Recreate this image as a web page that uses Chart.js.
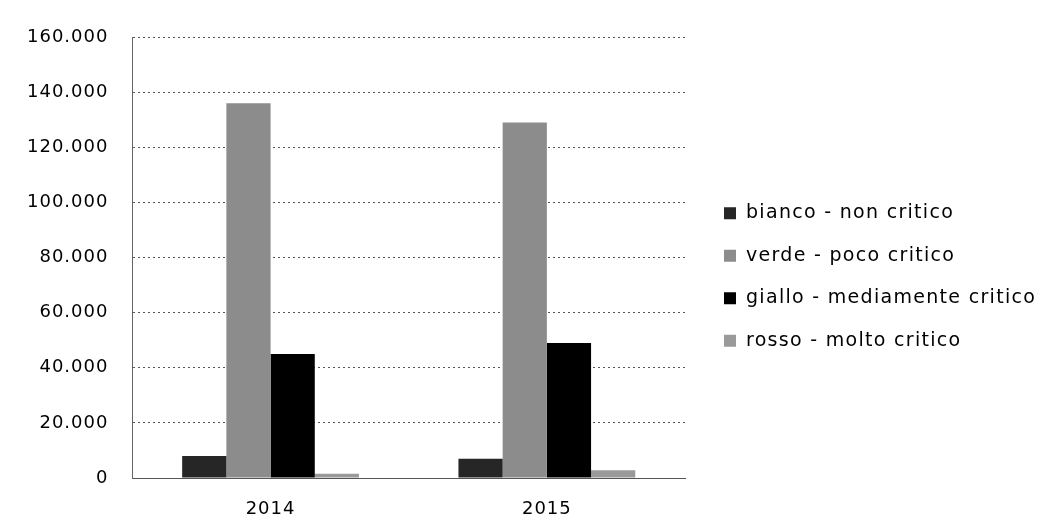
<!DOCTYPE html>
<html>
<head>
<meta charset="utf-8">
<script src="https://cdn.jsdelivr.net/npm/chart.js@4/dist/chart.umd.min.js"></script>
<style>
  html, body { margin: 0; padding: 0; background: #fff; }
  #wrap { width: 1046px; height: 530px; position: relative; }
</style>
</head>
<body>
<div id="wrap"><canvas id="c" width="1046" height="530"></canvas></div>
<script>
// Anni (categorie) e valori per livello di criticità
const anni = ['2014', '2015'];
const bianco = [8000, 7000];
const verde = [136000, 129000];
const giallo = [45000, 49000];
const rosso = [1500, 2800];
const serieNomi = ['bianco - non critico', 'verde - poco critico', 'giallo - mediamente critico', 'rosso - molto critico'];
const yTicks = [0, 20000, 40000, 60000, 80000, 100000, 120000, 140000, 160000];

const fontFamily = '"DejaVu Sans", "Liberation Sans", sans-serif';

// separatore delle migliaia all'italiana: 160.000
function formatta(v) {
  return String(v).replace(/\B(?=(\d{3})+(?!\d))/g, '.');
}

// spaziatura tra le lettere leggermente più ampia per tutto il testo
const spaziatura = {
  id: 'spaziatura',
  beforeUpdate(chart) { chart.ctx.letterSpacing = '1px'; },
  beforeLayout(chart) { chart.ctx.letterSpacing = '1px'; },
  beforeDraw(chart) { chart.ctx.letterSpacing = '1px'; },
  afterResize(chart) { chart.ctx.letterSpacing = '1px'; }
};

// legenda a destra, una voce per serie, disegnata dai dataset
const legenda = {
  id: 'legenda',
  afterDraw(chart) {
    const ctx = chart.ctx;
    ctx.save();
    ctx.letterSpacing = '1.3px';
    ctx.font = '19px ' + fontFamily;
    ctx.textBaseline = 'middle';
    ctx.textAlign = 'left';
    const x0 = chart.chartArea.right + 39;
    const yCentro = 277;
    const passo = 42.5;
    const n = chart.data.datasets.length;
    chart.data.datasets.forEach((ds, i) => {
      const y = yCentro + (i - (n - 1) / 2) * passo;
      ctx.fillStyle = ds.backgroundColor;
      ctx.fillRect(x0, y - 6, 12, 12);
      ctx.fillStyle = '#000';
      ctx.fillText(ds.label, x0 + 22, y);
    });
    ctx.restore();
  }
};

const colori = ['#262626', '#8c8c8c', '#000000', '#9a9a9a'];
const valori = [bianco, verde, giallo, rosso];

new Chart(document.getElementById('c'), {
  type: 'bar',
  data: {
    labels: anni,
    datasets: serieNomi.map((nome, i) => ({
      label: nome,
      data: valori[i],
      backgroundColor: colori[i],
      borderWidth: 0,
      barPercentage: 1.0,
      categoryPercentage: 0.64
    }))
  },
  options: {
    responsive: false,
    animation: false,
    layout: { padding: { top: 37, right: 361, bottom: 0, left: 3 } },
    plugins: {
      tooltip: { enabled: false },
      legend: { display: false }
    },
    scales: {
      x: {
        grid: { display: false, drawTicks: false },
        border: { display: true, color: '#555', dash: [2, 2] },
        ticks: { color: '#000', font: { family: fontFamily, size: 18 }, padding: 21 },
        afterFit(scale) { scale.height = 52; }
      },
      y: {
        min: 0,
        max: 160000,
        afterBuildTicks(scale) { scale.ticks = yTicks.map(v => ({ value: v })); },
        grid: { color: '#555', lineWidth: 1, drawTicks: false },
        border: { display: true, color: '#666', dash: [2, 3] },
        ticks: {
          color: '#000',
          font: { family: fontFamily, size: 18 },
          padding: 24,
          callback: v => formatta(v)
        }
      }
    }
  },
  plugins: [spaziatura, legenda]
});
</script>
</body>
</html>
